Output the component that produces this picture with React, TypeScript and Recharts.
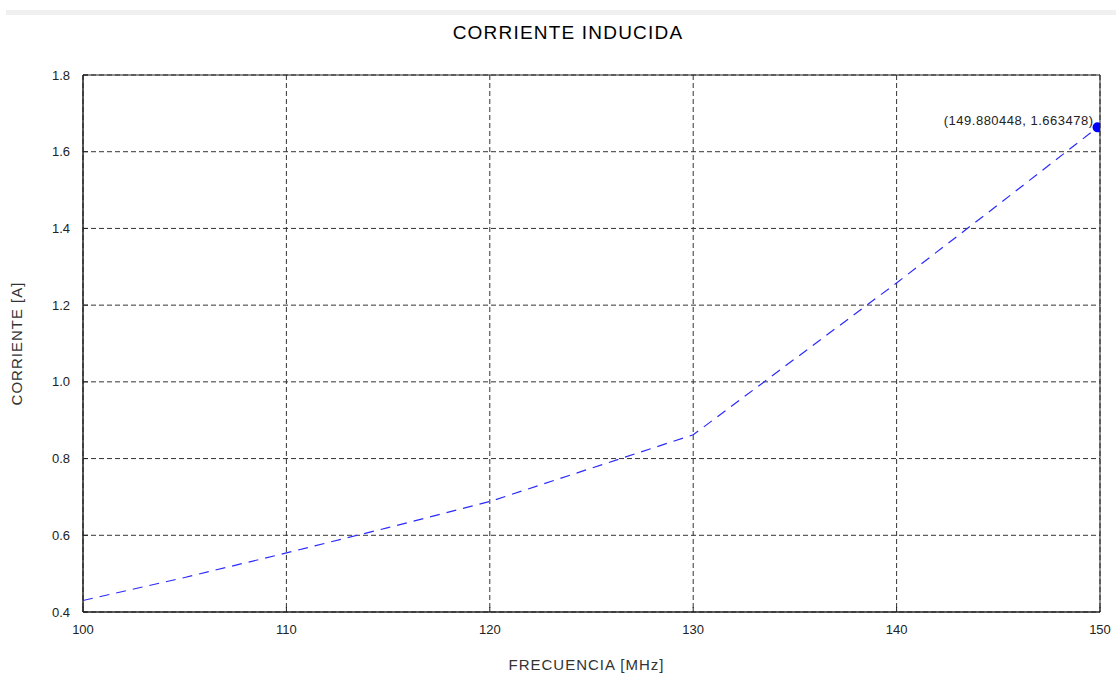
import { LineChart, Line, XAxis, YAxis, CartesianGrid, ReferenceArea, Label } from 'recharts'

// frecuencia [MHz] vs corriente inducida [A]
const frecuencia = [100, 105, 110, 115, 120, 125, 130, 135, 140, 145, 149.880448]
const corriente = [0.43, 0.49, 0.554, 0.62, 0.688, 0.775, 0.862, 1.06, 1.258, 1.462, 1.663478]
const xTicks = [100, 110, 120, 130, 140, 150]
const yTicks = [0.4, 0.6, 0.8, 1.0, 1.2, 1.4, 1.6, 1.8]

const data = frecuencia.map((f, i) => ({ f, i: corriente[i] }))

const font = '"Liberation Sans", Arial, sans-serif'

const LastDot = (props: any) => {
  const { cx, cy, index } = props
  if (index !== data.length - 1) return <g key={`d${index}`} />
  return (
    <g key={`d${index}`}>
      <text x={cx - 4} y={cy - 2} textAnchor="end" fontSize={13} letterSpacing={0.5} fontFamily={font} fill="#222">
        {`(${frecuencia[index]}, ${corriente[index].toFixed(6)})`}
      </text>
      <circle cx={cx} cy={cy} r={5} fill="#0000ff" />
    </g>
  )
}

const App = () => {
  return (
    <div style={{ position: 'absolute', left: 0, top: 0, width: 1116, height: 679, background: 'white' }}>
      <div style={{ position: 'absolute', left: 6, top: 10, width: 1110, height: 5, background: '#f0f0f0' }} />
      <div
        style={{
          position: 'absolute', left: 0, top: 22, width: 1136, textAlign: 'center',
          fontFamily: font, fontSize: 19, color: '#000', letterSpacing: 1.2,
        }}
      >
        CORRIENTE INDUCIDA
      </div>
      <LineChart
        width={1116}
        height={679}
        data={data}
        margin={{ top: 75, right: 16, left: 0, bottom: 0 }}
        style={{ position: 'absolute', left: 0, top: 0 }}
      >
        <CartesianGrid stroke="#333" strokeDasharray="5 3" />
        <XAxis
          dataKey="f"
          type="number"
          domain={[100, 150]}
          ticks={xTicks}
          allowDataOverflow
          height={67}
          axisLine={{ stroke: '#222' }}
          tickLine={{ stroke: '#222' }}
          tickSize={-5}
          tickMargin={18}
          tick={{ fontSize: 13, fill: '#222', fontFamily: font }}
        >
          <Label value="FRECUENCIA [MHz]" position="insideBottom" offset={9} dx={-5} fontSize={15} letterSpacing={1} fill="#333" fontFamily={font} />
        </XAxis>
        <YAxis
          type="number"
          domain={[0.4, 1.8]}
          ticks={yTicks}
          allowDataOverflow
          width={83}
          axisLine={{ stroke: '#222' }}
          tickLine={{ stroke: '#222' }}
          tickSize={-5}
          tickMargin={18}
          tickFormatter={(v: number) => v.toFixed(1)}
          tick={{ fontSize: 13, fill: '#222', fontFamily: font }}
        >
          <Label value="CORRIENTE [A]" angle={-90} position="insideLeft" offset={17} textAnchor="middle" fontSize={15} letterSpacing={1} fill="#333" fontFamily={font} />
        </YAxis>
        <ReferenceArea x1={100} x2={150} y1={0.4} y2={1.8} fill="none" stroke="#222" strokeWidth={1} ifOverflow="visible" />
        <Line
          type="linear"
          dataKey="i"
          stroke="#2a2aff"
          strokeWidth={1.2}
          strokeDasharray="10 7"
          dot={LastDot}
          activeDot={false}
          isAnimationActive={false}
        />
      </LineChart>
    </div>
  )
}

export default App
